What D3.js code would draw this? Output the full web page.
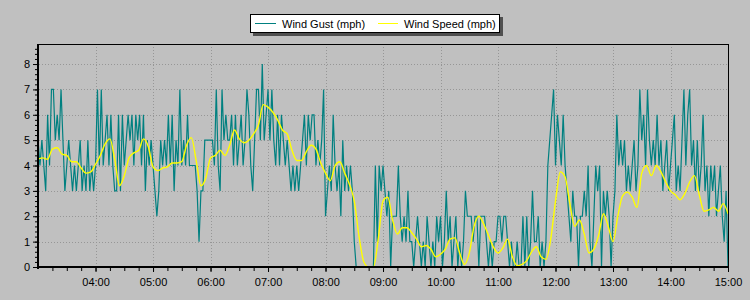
<!DOCTYPE html>
<html>
<head>
<meta charset="utf-8">
<script src="https://cdn.jsdelivr.net/npm/d3@7"></script>
<style>
body { margin: 0; background: #c0c0c0; }
svg { display: block; font-family: "Liberation Sans", Arial, sans-serif; }
</style>
</head>
<body>
<div id="chart"></div>
<script>
// readings start at 03:00, gust every 2 min, speed every 5 min
var start_time = '03:00';
var gust_step = 2;
var speed_step = 5;

var gust = [
    5,4,5,4,3, 6,4,7,7,5, 6,5,7,5,3, 4,5,4,3,4, 3,4,5,3,4, 3,5,3,4,3,
    4,7,4,7,4, 5,6,4,6,4, 3,3,6,3,6, 4,5,6,5,6, 4,6,5,6,4, 6,3,5,4,5,
    4,3,2,3,5, 4,5,4,6,4, 6,3,5,4,7, 4,5,4,6,4, 4,4,4,3,1, 3,3,5,5,5,
    5,5,4,7,4, 3,7,5,6,5, 5,6,4,6,4, 5,6,4,5,7, 6,4,3,5,7, 7,5,8,5,6,
    7,5,7,5,4, 6,4,6,5,4, 5,4,3,4,3, 4,3,4,5,6, 4,6,5,6,6, 4,5,4,5,7,
    2,3,4,3,6, 4,3,4,2,5, 3,4,3,4,3, 1,0,0,0,0, 0,0,0,0,0, 0,4,1,4,3,
    4,3,2,3,0, 2,2,2,4,2, 1,2,1,3,1, 1,0,1,2,1, 0,1,0,2,1, 0,1,0,2,1,
    2,0,1,3,1, 2,0,1,2,0, 1,0,1,3,2, 2,2,1,2,2, 0,2,2,2,1, 0,1,0,1,1,
    2,2,1,2,2, 1,0,1,0,0, 1,0,0,2,0, 2,0,1,3,1, 1,2,0,1,0, 1,4,5,6,7,
    4,6,5,4,6, 4,3,2,1,3, 2,2,0,2,2, 3,2,4,1,0, 2,4,3,4,0, 3,2,3,2,0,
    2,3,6,4,5, 4,5,3,4,3, 4,5,3,4,7, 5,6,4,7,5, 4,5,4,6,4, 5,3,4,5,3,
    4,5,6,3,4, 3,5,7,4,6, 7,4,5,3,5, 3,4,6,3,4, 2,4,3,4,2, 3,4,2,1,3,
    0
];

var speed = [
    4.25,4.3,4.25,4.65,4.7,4.45,4.4,4.15,4.15,3.9,3.7,3.75,
    4.05,4.4,4.85,5.05,4.25,3.2,3.6,4.3,4.5,4.6,5.05,4.75,
    3.95,3.8,3.9,3.95,4.1,4.1,4.15,4.8,5.1,4.2,3.2,3.5,
    4.3,4.4,4.6,4.4,4.8,5.4,5.05,4.9,5.0,5.25,5.6,6.4,
    6.3,6.1,5.8,5.4,5.25,4.6,4.2,4.2,4.55,4.8,4.65,4.1,
    3.7,3.4,4.0,4.15,3.7,3.25,2.6,1.2,0.2,0,0,1.1,
    2.6,2.75,1.85,1.3,1.55,1.55,1.35,1.1,0.8,0.85,0.7,0.4,
    0.5,0.7,1.1,1.15,0.55,0.1,0.55,1.6,2.0,1.7,1.25,0.8,
    0.55,0.75,1.1,0.4,0.05,0.1,0.25,0.6,0.8,0.4,0.3,1.1,
    2.6,3.75,3.55,2.5,1.6,1.85,1.3,0.55,0.7,1.25,2.1,1.6,
    1.0,2.0,2.8,2.95,2.75,2.35,3.7,4.0,3.6,4.0,3.75,3.35,
    3.0,2.85,2.65,2.9,3.35,3.6,2.85,2.2,2.25,2.35,2.2,2.5,
    2.1
];

var y_ticks = [0,1,2,3,4,5,6,7,8];
var x_ticks = ['04:00','05:00','06:00','07:00','08:00','09:00','10:00','11:00','12:00','13:00','14:00','15:00'];
var legend_labels = ['Wind Gust (mph)', 'Wind Speed (mph)'];
var colors = ['#008080', '#ffff00'];

var width = 750;
var height = 300;
var plot_left = 39, plot_right = 728, plot_top = 44, plot_bottom = 267;

var time_parse = d3.timeParse('%H:%M');
var time_format = d3.timeFormat('%H:%M');
var t0 = time_parse(start_time);

var gust_data = gust.map(function(v, i) {
    return {date: d3.timeMinute.offset(t0, i * gust_step), number: v};
});
var speed_data = speed.map(function(v, i) {
    return {date: d3.timeMinute.offset(t0, i * speed_step), number: v};
});

var x_scale = d3.scaleTime()
    .domain([time_parse('03:01'), time_parse('15:00')])
    .range([plot_left, plot_right]);

var y_scale = d3.scaleLinear()
    .domain([0, 8.79])
    .range([plot_bottom, plot_top]);

var svg = d3.select('#chart')
    .append('svg')
    .attr('width', width)
    .attr('height', height);

svg.append('defs').append('clipPath')
    .attr('id', 'plot-clip')
    .append('rect')
    .attr('x', plot_left)
    .attr('y', plot_top)
    .attr('width', plot_right - plot_left)
    .attr('height', plot_bottom - plot_top);

// grid
var hour_dates = x_ticks.map(time_parse);
var grid = svg.append('g')
    .attr('stroke', '#969696')
    .attr('stroke-width', 1)
    .attr('stroke-dasharray', '1,2');

grid.selectAll('.hgrid')
    .data(y_ticks.slice(1))
    .enter()
    .append('line')
    .attr('x1', plot_left)
    .attr('x2', plot_right)
    .attr('y1', function(d) { return Math.round(y_scale(d)) + 0.5; })
    .attr('y2', function(d) { return Math.round(y_scale(d)) + 0.5; });

grid.selectAll('.vgrid')
    .data(hour_dates.slice(0, -1))
    .enter()
    .append('line')
    .attr('y1', plot_top)
    .attr('y2', plot_bottom)
    .attr('x1', function(d) { return Math.round(x_scale(d)) + 0.5; })
    .attr('x2', function(d) { return Math.round(x_scale(d)) + 0.5; });

// lines
var line = d3.line()
    .x(function(d) { return x_scale(d.date); })
    .y(function(d) { return y_scale(d.number); });

var plot = svg.append('g').attr('clip-path', 'url(#plot-clip)');

plot.append('path')
    .datum(gust_data)
    .attr('fill', 'none')
    .attr('stroke', colors[0])
    .attr('stroke-width', 1.2)
    .attr('d', line);

plot.append('path')
    .datum(speed_data)
    .attr('fill', 'none')
    .attr('stroke', colors[1])
    .attr('stroke-width', 1.4)
    .attr('d', line.curve(d3.curveMonotoneX));

// axes
var y_axis = d3.axisLeft(y_scale)
    .tickValues(y_ticks)
    .tickSize(5)
    .tickPadding(3);

var y_minor = d3.axisLeft(y_scale)
    .tickValues(d3.range(0, 8.79, 0.2))
    .tickSize(3)
    .tickFormat('');

var x_axis = d3.axisBottom(x_scale)
    .tickValues(hour_dates)
    .tickSize(4)
    .tickPadding(6)
    .tickFormat(time_format);

var x_minor = d3.axisBottom(x_scale)
    .ticks(d3.timeMinute.every(15))
    .tickSize(3)
    .tickFormat('');

[y_minor, y_axis].forEach(function(ax) {
    svg.append('g')
        .attr('transform', 'translate(' + (plot_left - 1) + ',0)')
        .call(ax);
});
[x_minor, x_axis].forEach(function(ax) {
    svg.append('g')
        .attr('transform', 'translate(0,' + (plot_bottom + 1) + ')')
        .call(ax);
});

svg.selectAll('.domain').remove();
svg.selectAll('.tick line').attr('stroke', '#000');
svg.selectAll('.tick text')
    .attr('fill', '#000')
    .attr('font-size', 11)
    .attr('font-family', '"Liberation Sans", Arial, sans-serif');

// frame
svg.append('line')
    .attr('x1', plot_left).attr('x2', plot_right + 1)
    .attr('y1', plot_top + 0.5).attr('y2', plot_top + 0.5)
    .attr('stroke', '#000');
svg.append('line')
    .attr('x1', plot_right + 0.5).attr('x2', plot_right + 0.5)
    .attr('y1', plot_top).attr('y2', plot_bottom)
    .attr('stroke', '#000');
svg.append('line')
    .attr('x1', plot_left - 1).attr('x2', plot_left - 1)
    .attr('y1', plot_top).attr('y2', plot_bottom + 2)
    .attr('stroke', '#000')
    .attr('stroke-width', 2);
svg.append('line')
    .attr('x1', plot_left - 2).attr('x2', plot_right + 1)
    .attr('y1', plot_bottom).attr('y2', plot_bottom)
    .attr('stroke', '#000')
    .attr('stroke-width', 2);

// legend
var legend = svg.append('g').attr('transform', 'translate(250,14)');
legend.append('rect')
    .attr('x', 3).attr('y', 3)
    .attr('width', 250).attr('height', 19)
    .attr('fill', '#505050');
legend.append('rect')
    .attr('x', 0.5).attr('y', 0.5)
    .attr('width', 249).attr('height', 18)
    .attr('fill', '#fff')
    .attr('stroke', '#000');

var legend_x = [[5, 26, 32], [128, 148, 154]];
legend_labels.forEach(function(label, i) {
    legend.append('line')
        .attr('x1', legend_x[i][0]).attr('x2', legend_x[i][1])
        .attr('y1', 9.5).attr('y2', 9.5)
        .attr('stroke', colors[i]);
    legend.append('text')
        .attr('x', legend_x[i][2])
        .attr('y', 13.5)
        .attr('font-size', 11)
        .attr('fill', '#000')
        .text(label);
});
</script>
</body>
</html>
